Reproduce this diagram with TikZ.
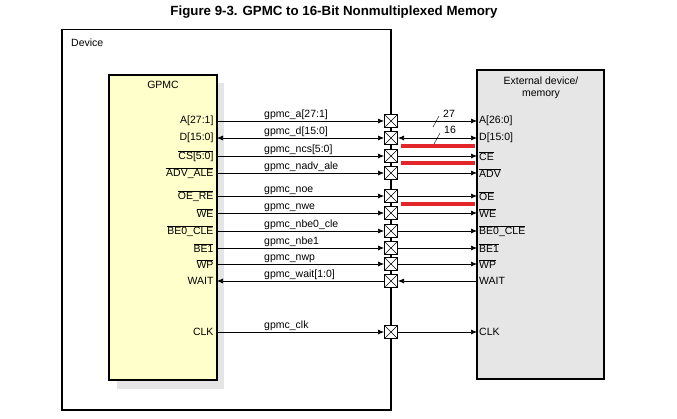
\documentclass[tikz,border=0pt]{standalone}
\usepackage{fontspec}
\setmainfont{Liberation Sans}
\usepackage{tikz}
\usetikzlibrary{arrows.meta,positioning}
\definecolor{gpmcfill}{HTML}{FFFFCC}
\definecolor{extfill}{HTML}{E6E6E6}
\definecolor{barred}{HTML}{E2262A}
\newcommand{\nbar}[1]{$\overline{\mbox{#1}}$}

\begin{document}
\begin{tikzpicture}[x=1pt,y=-1pt,>={Latex[length=6pt,width=5pt]},
    every node/.style={font=\fontsize{10.5}{11.5}\selectfont},
    iopad/.style={rectangle,draw,line width=1pt,fill=white,minimum size=13pt,inner sep=0pt,
        path picture={\draw [thin] (path picture bounding box.south west) -- (path picture bounding box.north east)
            (path picture bounding box.north west) -- (path picture bounding box.south east);}},
    sigline/.style={draw,line width=0.7pt},
    redbar/.style={draw=barred,line width=4pt}]
        \useasboundingbox (0,0) rectangle (677,419);
        \node (title) at (334,12) [font=\bfseries\fontsize{13.3}{15}\selectfont] {Figure 9-3. GPMC to 16-Bit Nonmultiplexed Memory};
        \path [draw,line width=1.2pt] (62,29.5) rectangle (391,410);
        \node (devlabel) at (71,42.5) [anchor=west,inner sep=0pt] {Device};
        \path [fill=black!10] (117,83) rectangle (224,389);
        \node (gpmc) at (163,227.5) [draw,line width=1.2pt,fill=gpmcfill,minimum width=108pt,minimum height=305pt,inner sep=0pt] {};
        \node (gpmclabel) at (163,85) {GPMC};
        \node (ext) at (540.5,224.5) [draw,line width=1.2pt,fill=extfill,minimum width=127pt,minimum height=309pt,inner sep=0pt] {};
        \node (extlabel) at (541,88) [align=center] {External device/\\memory};
        \node (padA) at (391,121) [iopad] {};
        \node (padD) at (391,138) [iopad] {};
        \node (padCS) at (391,156) [iopad] {};
        \node (padADV) at (391,173) [iopad] {};
        \node (padOE) at (391,196) [iopad] {};
        \node (padWE) at (391,213) [iopad] {};
        \node (padBEO) at (391,231) [iopad] {};
        \node (padBEI) at (391,248) [iopad] {};
        \node (padWP) at (391,264) [iopad] {};
        \node (padWAIT) at (391,281) [iopad] {};
        \node (padCLK) at (391,332) [iopad] {};
        \node (gpA) at (217,121) [anchor=east] {A[27:1]};
        \node (gpD) at (217,138) [anchor=east] {D[15:0]};
        \node (gpCS) at (217,156) [anchor=east] {\nbar{CS[5:0]}};
        \node (gpADV) at (217,173) [anchor=east] {\nbar{ADV\_ALE}};
        \node (gpOE) at (217,196) [anchor=east] {\nbar{OE\_RE}};
        \node (gpWE) at (217,213) [anchor=east] {\nbar{WE}};
        \node (gpBEO) at (217,231) [anchor=east] {\nbar{BE0\_CLE}};
        \node (gpBEI) at (217,248) [anchor=east] {\nbar{BE1}};
        \node (gpWP) at (217,264) [anchor=east] {\nbar{WP}};
        \node (gpWAIT) at (217,281) [anchor=east] {WAIT};
        \node (gpCLK) at (217,332) [anchor=east] {CLK};
        \node (memA) at (477,121) [anchor=west,inner sep=2pt] {A[26:0]};
        \node (memD) at (477,138) [anchor=west,inner sep=2pt] {D[15:0]};
        \node (memCE) at (477,156) [anchor=west,inner sep=2pt] {\nbar{CE}};
        \node (memADV) at (477,173) [anchor=west,inner sep=2pt] {\nbar{ADV}};
        \node (memOE) at (477,196) [anchor=west,inner sep=2pt] {\nbar{OE}};
        \node (memWE) at (477,213) [anchor=west,inner sep=2pt] {\nbar{WE}};
        \node (memBEO) at (477,231) [anchor=west,inner sep=2pt] {\nbar{BE0\_CLE}};
        \node (memBEI) at (477,248) [anchor=west,inner sep=2pt] {\nbar{BE1}};
        \node (memWP) at (477,264) [anchor=west,inner sep=2pt] {\nbar{WP}};
        \node (memWAIT) at (477,281) [anchor=west,inner sep=2pt] {WAIT};
        \node (memCLK) at (477,332) [anchor=west,inner sep=2pt] {CLK};
        \path [sigline,->] (gpA.east) -- (padA.west);
        \path [sigline,<->] (gpD.east) -- (padD.west);
        \path [sigline,->] (gpCS.east) -- (padCS.west);
        \path [sigline,->] (gpADV.east) -- (padADV.west);
        \path [sigline,->] (gpOE.east) -- (padOE.west);
        \path [sigline,->] (gpWE.east) -- (padWE.west);
        \path [sigline,->] (gpBEO.east) -- (padBEO.west);
        \path [sigline,->] (gpBEI.east) -- (padBEI.west);
        \path [sigline,->] (gpWP.east) -- (padWP.west);
        \path [sigline,<-] (gpWAIT.east) -- (padWAIT.west);
        \path [sigline,->] (gpCLK.east) -- (padCLK.west);
        \path [sigline,->] (padA.east) -- (memA.west);
        \path [sigline,<->] (padD.east) -- (memD.west);
        \path [sigline,->] (padCS.east) -- (memCE.west);
        \path [sigline,->] (padADV.east) -- (memADV.west);
        \path [sigline,->] (padOE.east) -- (memOE.west);
        \path [sigline,->] (padWE.east) -- (memWE.west);
        \path [sigline,->] (padBEO.east) -- (memBEO.west);
        \path [sigline,->] (padBEI.east) -- (memBEI.west);
        \path [sigline,->] (padWP.east) -- (memWP.west);
        \path [sigline,<-] (padWAIT.east) -- (memWAIT.west);
        \path [sigline,->] (padCLK.east) -- (memCLK.west);
        \node (sA) at (264,118) [anchor=base west,inner sep=0pt] {gpmc\_a[27:1]};
        \node (sD) at (264,135) [anchor=base west,inner sep=0pt] {gpmc\_d[15:0]};
        \node (sCS) at (264,153) [anchor=base west,inner sep=0pt] {gpmc\_ncs[5:0]};
        \node (sADV) at (264,170) [anchor=base west,inner sep=0pt] {gpmc\_nadv\_ale};
        \node (sOE) at (264,193) [anchor=base west,inner sep=0pt] {gpmc\_noe};
        \node (sWE) at (264,210) [anchor=base west,inner sep=0pt] {gpmc\_nwe};
        \node (sBEO) at (264,228) [anchor=base west,inner sep=0pt] {gpmc\_nbe0\_cle};
        \node (sBEI) at (264,245) [anchor=base west,inner sep=0pt] {gpmc\_nbe1};
        \node (sWP) at (264,261) [anchor=base west,inner sep=0pt] {gpmc\_nwp};
        \node (sWAIT) at (264,278) [anchor=base west,inner sep=0pt] {gpmc\_wait[1:0]};
        \node (sCLK) at (264,329) [anchor=base west,inner sep=0pt] {gpmc\_clk};
        \path [draw,thin] (padA.east) ++(35,6) -- ++(6,-11);
        \node (wA) at (449,114) [inner sep=0pt] {27};
        \path [draw,thin] (padD.east) ++(36,6) -- ++(6,-11);
        \node (wD) at (450,130) [inner sep=0pt] {16};
        \path [redbar] (padD.south east) ++(3,1.5) -- ++(74,0);
        \path [redbar] (padCS.south east) ++(3,0) -- ++(74,0);
        \path [redbar] (padOE.south east) ++(3,1.5) -- ++(74,0);
    \end{tikzpicture}
\end{document}
